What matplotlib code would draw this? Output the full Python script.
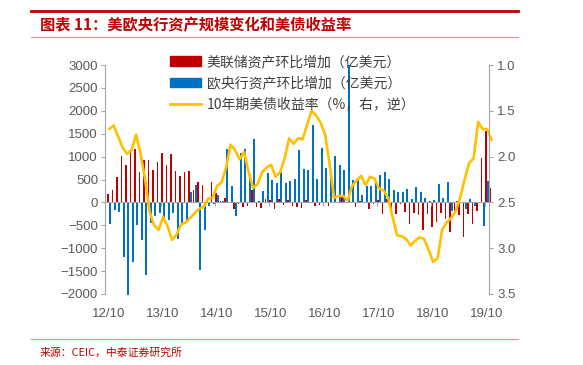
import numpy as np
import matplotlib.pyplot as plt
from matplotlib.patches import Patch
from matplotlib.lines import Line2D

plt.rcParams['font.family'] = ['Liberation Sans', 'Noto Sans CJK SC', 'DejaVu Sans']

# 月度数据：2012/10 - 2019/11
fed = [180, 280, 550, 1015, 815, 1100, 1160, 665, 925, 925, 715, 880,
       1085, 825, 1065, 688, 575, 665, 685, 265, 447, 375, 60, 445,
       200, 30, 100, 15, -138, -30, -100, -87, 277, -109, -116, 73,
       44, -138, 80, -58, 58, -80, -90, -131, 44, 10, -73, -50,
       5, -87, 10, 5, 120, 10, 5, -100, 30, 15, -138, -35,
       44, -255, 80, -295, -260, -30, -210, -465, -235, -282, -600, -255,
       -540, -428, -240, -355, -650, -200, -280, -760, -250, -470, -180, 975,
       1565, 320]
ecb = [-466, -175, -211, -1194, -2030, -1303, -488, -815, -1580, -451, -300, -225,
       -370, -393, -233, -793, -502, -415, 226, 375, -1485, -597, -87, -30,
       160, 40, 1175, 350, -306, 1070, 1175, 611, 1375, 30, 240, 640,
       480, 430, 655, 422, 459, 517, 1155, 737, 699, 1682, 502, 1194,
       757, 626, 1005, 823, 699, 2990, 495, 517, 153, 350, 350, 459,
       604, 655, 517, 262, 226, 218, 291, 80, 335, 226, 95, 20,
       58, 393, 87, 451, -189, 29, 10, -138, 65, -80, 0, -517,
       466, np.nan]
ust10y = [1.70, 1.66, 1.78, 1.90, 1.97, 1.93, 1.76, 1.97, 2.25, 2.60, 2.75, 2.80,
          2.66, 2.76, 2.91, 2.85, 2.74, 2.72, 2.67, 2.62, 2.57, 2.55, 2.46, 2.45,
          2.32, 2.28, 2.12, 1.87, 1.93, 2.03, 1.95, 2.17, 2.34, 2.30, 2.17, 2.12,
          2.09, 2.22, 2.17, 2.02, 1.80, 1.86, 1.80, 1.81, 1.65, 1.50, 1.55, 1.63,
          1.76, 2.08, 2.45, 2.43, 2.43, 2.48, 2.32, 2.26, 2.21, 2.31, 2.22, 2.24,
          2.35, 2.37, 2.45, 2.66, 2.86, 2.87, 2.90, 2.97, 2.92, 2.88, 2.90, 3.02,
          3.15, 3.11, 2.80, 2.72, 2.67, 2.60, 2.45, 2.25, 2.07, 2.02, 1.62, 1.70,
          1.70, 1.82]
year_labels = ['12/10', '13/10', '14/10', '15/10', '16/10', '17/10', '18/10', '19/10']

red = '#C00000'
blue = '#0070C0'
gold = '#FFC000'
grey = '#A6A6A6'
txt = '#595959'

x = np.arange(len(fed))

fig = plt.figure(figsize=(5.83, 3.65), dpi=100)
ax = fig.add_axes([105 / 583, 1 - 294 / 365, 384 / 583, 229 / 365])

ax.bar(x - 0.245, fed, width=0.44, color=red, clip_on=False, zorder=1)
ax.bar(x + 0.245, ecb, width=0.44, color=blue, clip_on=False, zorder=1)
ax.set_xlim(-0.91, 84.42)
ax.set_ylim(-2000, 3000)
ax.set_yticks(np.arange(-2000, 3001, 500))
ax.tick_params(axis='y', direction='out', length=3, color=grey, labelcolor=txt,
               labelsize=9.5, pad=2)

# 横轴放在0位置，刻度线在年份之间
ax.spines['bottom'].set_position(('data', 0))
ax.spines['bottom'].set_color(grey)
ax.spines['left'].set_color(grey)
ax.spines['top'].set_visible(False)
ax.spines['right'].set_visible(False)
ax.set_xticks(np.arange(11.5, 84, 12))
ax.tick_params(axis='x', direction='out', length=3, color=grey, labelbottom=False)

sec = ax.secondary_xaxis('bottom')
sec.set_xticks(np.arange(0, 85, 12), labels=year_labels)
sec.tick_params(length=0, pad=10, labelsize=9.5, labelcolor=txt)
sec.spines['bottom'].set_visible(False)

ax2 = ax.twinx()
ax2.plot(x, ust10y, color=gold, lw=1.9, clip_on=False, solid_joinstyle='round',
         solid_capstyle='round')
ax2.set_ylim(3.5, 1.0)
ax2.set_yticks([1.0, 1.5, 2.0, 2.5, 3.0, 3.5])
ax2.set_yticklabels(['1.0', '1.5', '2.0', '2.5', '3.0', '3.5'])
ax2.tick_params(axis='y', direction='out', length=3, color=grey, labelcolor=txt,
                labelsize=9.5, pad=3)
for s in ['top', 'left', 'bottom']:
    ax2.spines[s].set_visible(False)
ax2.spines['right'].set_color(grey)

handles = [Patch(color=red), Patch(color=blue), Line2D([], [], color=gold, lw=2)]
labels = ['美联储资产环比增加（亿美元）', '欧央行资产环比增加（亿美元）', '10年期美债收益率（%，右，逆）']
fig.legend(handles, labels, loc='upper left', bbox_to_anchor=(170 / 583, 1 - 55 / 365),
           frameon=False, borderpad=0, borderaxespad=0, handlelength=2.2,
           handletextpad=0.45, labelspacing=0.52,
           prop={'family': ['Noto Sans CJK SC'], 'size': 10}, labelcolor='#404040')

# 标题与来源
fig.add_artist(Line2D([31 / 583, 518 / 583], [1 - 11 / 365] * 2, color=red, lw=2))
fig.add_artist(Line2D([31 / 583, 518 / 583], [1 - 37 / 365] * 2, color='#E09090', lw=0.8))
fig.add_artist(Line2D([31 / 583, 518 / 583], [1 - 339 / 365] * 2, color='#E09090', lw=0.8))
fig.text(40 / 583, 1 - 25 / 365, '图表 11：美欧央行资产规模变化和美债收益率', color=red,
         fontsize=11, fontweight='bold', va='center', family=['Noto Sans CJK SC'])
fig.text(40 / 583, 1 - 353 / 365, '来源：CEIC，中泰证券研究所', color=red,
         fontsize=7.8, va='center', family=['Noto Sans CJK SC'])

fig.savefig('out.png', dpi=100)
